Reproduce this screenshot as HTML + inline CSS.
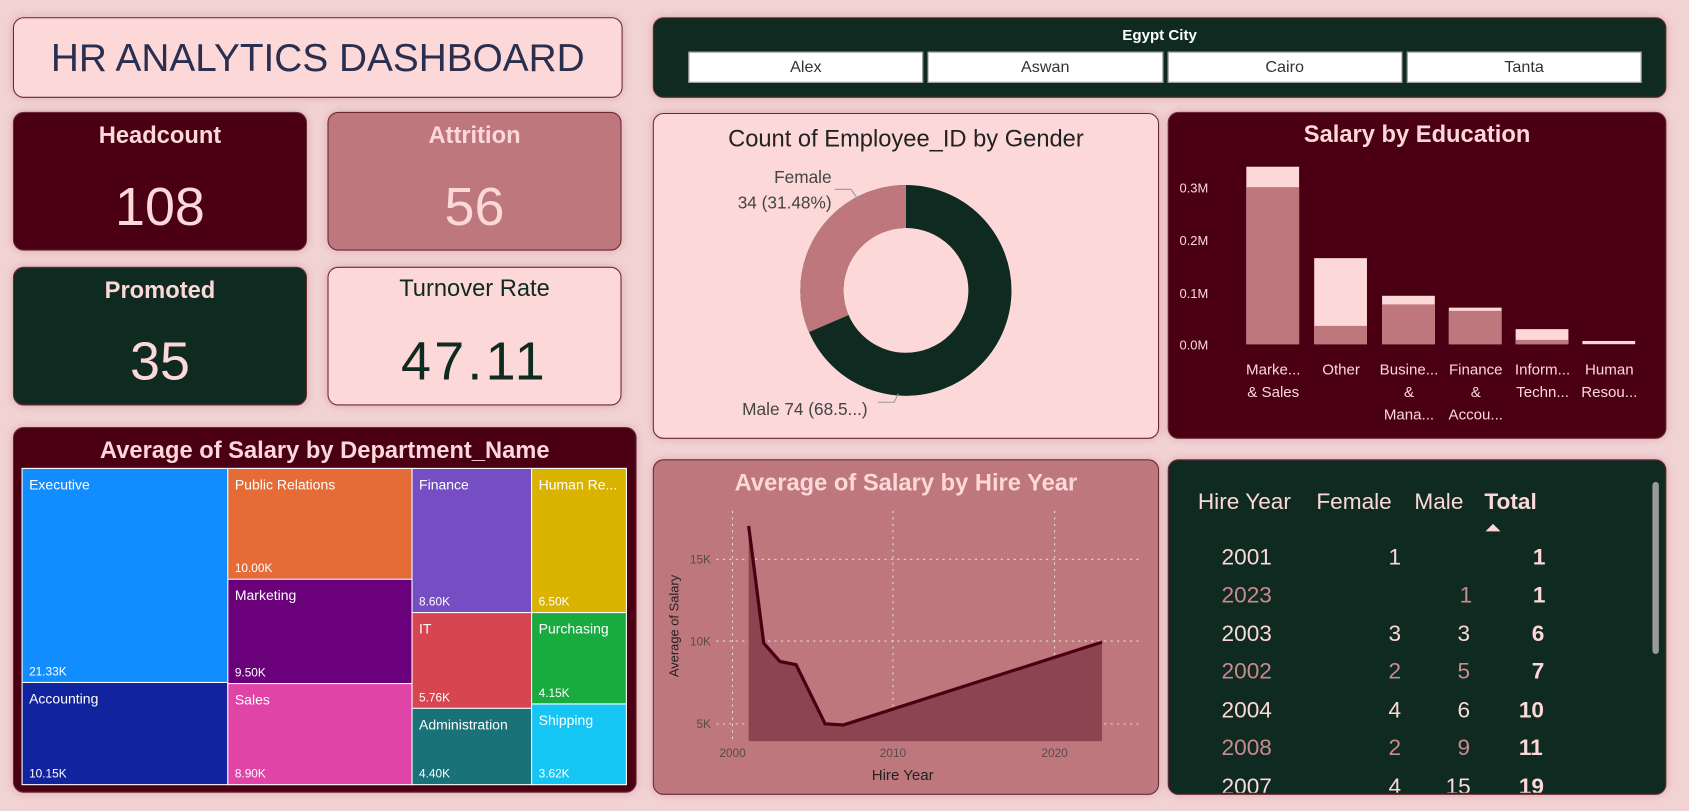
<!DOCTYPE html>
<html><head><meta charset="utf-8"><style>
body{margin:0;width:1689px;height:811px;overflow:hidden;background:#efcfd0;font-family:"Liberation Sans",sans-serif}
#w{position:absolute;left:0;top:0;width:1568px;height:754px;transform:scale(1.0772,1.0756);transform-origin:0 0;background:#f2d3d4}
.p{position:absolute;border:1px solid #6a2a35;border-radius:10px;box-sizing:border-box;box-shadow:0 0 8px rgba(180,100,110,.35)}
.t{position:absolute;left:0;right:0;text-align:center;white-space:nowrap}
.c{position:absolute;color:#fff;font-size:13px;box-sizing:border-box;border:1px solid #fff}
.c span{position:absolute;left:6px;bottom:3px;font-size:11px}
.c b{font-weight:normal;position:absolute;left:6px;top:7px}
.r{position:absolute;font-size:21px;white-space:nowrap}
</style></head><body><div id="w">
<div class="p" style="left:12px;top:16px;width:566px;height:75px;background:#fdd8d8"><div class="t" style="top:16px;font-size:36px;color:#2a2f4f">HR ANALYTICS DASHBOARD</div></div>
<div class="p" style="left:12px;top:104px;width:273px;height:129px;background:#4a0012;color:#fdd8d8"><div class="t" style="top:8px;font-size:22px;font-weight:bold">Headcount</div><div class="t" style="top:58px;font-size:50px">108</div></div>
<div class="p" style="left:304px;top:104px;width:273px;height:129px;background:#be777d;color:#fdd8d8"><div class="t" style="top:8px;font-size:22px;font-weight:bold">Attrition</div><div class="t" style="top:58px;font-size:50px">56</div></div>
<div class="p" style="left:12px;top:248px;width:273px;height:129px;background:#0f2a20;color:#fdd8d8"><div class="t" style="top:8px;font-size:22px;font-weight:bold">Promoted</div><div class="t" style="top:58px;font-size:50px">35</div></div>
<div class="p" style="left:304px;top:248px;width:273px;height:129px;background:#fdd8d8;color:#0f2a20"><div class="t" style="top:6px;font-size:22px">Turnover Rate</div><div class="t" style="top:58px;font-size:50px;letter-spacing:3px">47.11</div></div>
<div class="p" style="left:12px;top:397px;width:579px;height:340px;background:#4a0012"><div class="t" style="top:8px;font-size:22px;font-weight:bold;color:#fdd8d8">Average of Salary by Department_Name</div></div>
<div class="c" style="left:20px;top:435px;width:192px;height:200px;background:#118dff"><b>Executive</b><span>21.33K</span></div>
<div class="c" style="left:20px;top:634px;width:192px;height:96px;background:#12239e"><b>Accounting</b><span>10.15K</span></div>
<div class="c" style="left:211px;top:435px;width:172px;height:104px;background:#e66c37"><b>Public Relations</b><span>10.00K</span></div>
<div class="c" style="left:211px;top:538px;width:172px;height:98px;background:#6b007b"><b>Marketing</b><span>9.50K</span></div>
<div class="c" style="left:211px;top:635px;width:172px;height:95px;background:#e044a7"><b>Sales</b><span>8.90K</span></div>
<div class="c" style="left:382px;top:435px;width:112px;height:135px;background:#744ec2"><b>Finance</b><span>8.60K</span></div>
<div class="c" style="left:382px;top:569px;width:112px;height:90px;background:#d64550"><b>IT</b><span>5.76K</span></div>
<div class="c" style="left:382px;top:658px;width:112px;height:72px;background:#197278"><b>Administration</b><span>4.40K</span></div>
<div class="c" style="left:493px;top:435px;width:89px;height:135px;background:#d9b300"><b>Human Re...</b><span>6.50K</span></div>
<div class="c" style="left:493px;top:569px;width:89px;height:86px;background:#1aab40"><b>Purchasing</b><span>4.15K</span></div>
<div class="c" style="left:493px;top:654px;width:89px;height:76px;background:#15c6f4"><b>Shipping</b><span>3.62K</span></div>
<div class="p" style="left:606px;top:16px;width:941px;height:75px;background:#0f2a20"><div class="t" style="top:7px;font-size:14px;font-weight:bold;color:#fff">Egypt City</div></div>
<div style="position:absolute;top:48px;left:639px;width:885px;height:29px;display:flex;gap:4px">
<div style="flex:1;background:#fff;border:1px solid #999;text-align:center;line-height:27px;font-size:15px;color:#333">Alex</div><div style="flex:1;background:#fff;border:1px solid #999;text-align:center;line-height:27px;font-size:15px;color:#333">Aswan</div><div style="flex:1;background:#fff;border:1px solid #999;text-align:center;line-height:27px;font-size:15px;color:#333">Cairo</div><div style="flex:1;background:#fff;border:1px solid #999;text-align:center;line-height:27px;font-size:15px;color:#333">Tanta</div></div>
<div class="p" style="left:606px;top:105px;width:470px;height:303px;background:#fdd8d8"><div class="t" style="top:10px;font-size:22px;color:#222">Count of Employee_ID by Gender</div></div>
<svg style="position:absolute;left:0;top:0" width="1568" height="754">
<circle cx="841" cy="270" r="78" fill="none" stroke="#0f2a20" stroke-width="40"/>
<circle cx="841" cy="270" r="78" fill="none" stroke="#be777d" stroke-width="40" stroke-dasharray="154.3 490.1" transform="rotate(156.7 841 270)"/>
<polyline points="775,176 790,176 797,186" fill="none" stroke="#999"/>
<polyline points="815,374 830,374 834,366" fill="none" stroke="#999"/>
<text x="772" y="170" font-size="16" fill="#444" text-anchor="end">Female</text>
<text x="772" y="194" font-size="16" fill="#444" text-anchor="end">34 (31.48%)</text>
<text x="689" y="386" font-size="16" fill="#444">Male 74 (68.5...)</text>
</svg>
<div class="p" style="left:1084px;top:104px;width:463px;height:304px;background:#4a0012"><div class="t" style="top:7px;font-size:22px;font-weight:bold;color:#fdd8d8">Salary by Education</div></div>
<svg style="position:absolute;left:0;top:0" width="1568" height="754" font-family="Liberation Sans">
<g fill="#fdd8d8" font-size="12"><text x="1095" y="179">0.3M</text><text x="1095" y="228">0.2M</text><text x="1095" y="277">0.1M</text><text x="1095" y="325">0.0M</text></g>
<g fill="#fdd8d8"><rect x="1157" y="155" width="49" height="165"/><rect x="1220" y="240" width="49" height="80"/><rect x="1283" y="275" width="49" height="45"/><rect x="1345" y="286" width="49" height="34"/><rect x="1407" y="306" width="49" height="14"/><rect x="1469" y="317" width="49" height="3"/></g>
<g fill="#be777d"><rect x="1157" y="174" width="49" height="146"/><rect x="1220" y="303" width="49" height="17"/><rect x="1283" y="283" width="49" height="37"/><rect x="1345" y="289" width="49" height="31"/><rect x="1407" y="316" width="49" height="4"/></g>
<g fill="#fdd8d8" font-size="14" text-anchor="middle"><text x="1182" y="348">Marke...</text><text x="1182" y="369">&amp; Sales</text><text x="1245" y="348">Other</text><text x="1308" y="348">Busine...</text><text x="1308" y="369">&amp;</text><text x="1308" y="390">Mana...</text><text x="1370" y="348">Finance</text><text x="1370" y="369">&amp;</text><text x="1370" y="390">Accou...</text><text x="1432" y="348">Inform...</text><text x="1432" y="369">Techn...</text><text x="1494" y="348">Human</text><text x="1494" y="369">Resou...</text></g>
</svg>
<div class="p" style="left:606px;top:427px;width:470px;height:312px;background:#be777d"><div class="t" style="top:8px;font-size:22px;font-weight:bold;color:#fdd8d8">Average of Salary by Hire Year</div></div>
<svg style="position:absolute;left:0;top:0" width="1568" height="754" font-family="Liberation Sans">
<g stroke="#ddd" stroke-dasharray="2 4" stroke-width="1"><line x1="665" y1="520" x2="1060" y2="520"/><line x1="665" y1="596" x2="1060" y2="596"/><line x1="665" y1="673" x2="1060" y2="673"/><line x1="680" y1="475" x2="680" y2="690"/><line x1="829" y1="475" x2="829" y2="690"/><line x1="979" y1="475" x2="979" y2="690"/></g>
<path d="M695,489 L709,598 L724,615 L739,618 L766,673 L783,674 L1023,597 L1023,689 L695,689Z" fill="#8c4550"/>
<polyline points="695,489 709,598 724,615 739,618 766,673 783,674 1023,597" fill="none" stroke="#4a0012" stroke-width="3"/>
<g fill="#5a4a4c" font-size="11" text-anchor="end"><text x="660" y="524">15K</text><text x="660" y="600">10K</text><text x="660" y="677">5K</text></g>
<g fill="#5a4a4c" font-size="11" text-anchor="middle"><text x="680" y="704">2000</text><text x="829" y="704">2010</text><text x="979" y="704">2020</text></g>
<text x="838" y="725" font-size="14" fill="#222" text-anchor="middle">Hire Year</text>
<text transform="translate(630 582) rotate(-90)" font-size="12" fill="#222" text-anchor="middle">Average of Salary</text>
</svg>
<div class="p" style="left:1084px;top:427px;width:463px;height:312px;background:#0f2a20;overflow:hidden">
<div style="position:absolute;right:6px;top:20px;width:6px;height:160px;background:#999;border-radius:3px"></div>
</div>
<div style="position:absolute;left:0;top:0;color:#fdd8d8">
<div class="r" style="left:1112px;top:455px">Hire Year</div><div class="r" style="left:1222px;top:455px">Female</div><div class="r" style="left:1313px;top:455px">Male</div><div class="r" style="left:1378px;top:455px;font-weight:bold">Total</div>
<div style="position:absolute;left:1379px;top:487px;border:7px solid transparent;border-bottom-color:#fdd8d8;border-top:0"></div>
</div>
<div style="position:absolute;left:0;top:0;font-size:21px">
<div style="color:#fdd8d8"><div class="r" style="left:1134px;top:507px">2001</div><div class="r" style="left:1289px;top:507px">1</div><div class="r" style="left:1423px;top:507px;font-weight:bold">1</div></div>
<div style="color:#c98a90"><div class="r" style="left:1134px;top:542px">2023</div><div class="r" style="left:1355px;top:542px">1</div><div class="r" style="left:1423px;top:542px;font-weight:bold;color:#fdd8d8">1</div></div>
<div style="color:#fdd8d8"><div class="r" style="left:1134px;top:578px">2003</div><div class="r" style="left:1289px;top:578px">3</div><div class="r" style="left:1353px;top:578px">3</div><div class="r" style="left:1422px;top:578px;font-weight:bold">6</div></div>
<div style="color:#c98a90"><div class="r" style="left:1134px;top:613px">2002</div><div class="r" style="left:1289px;top:613px">2</div><div class="r" style="left:1353px;top:613px">5</div><div class="r" style="left:1422px;top:613px;font-weight:bold;color:#fdd8d8">7</div></div>
<div style="color:#fdd8d8"><div class="r" style="left:1134px;top:649px">2004</div><div class="r" style="left:1289px;top:649px">4</div><div class="r" style="left:1353px;top:649px">6</div><div class="r" style="left:1410px;top:649px;font-weight:bold">10</div></div>
<div style="color:#c98a90"><div class="r" style="left:1134px;top:684px">2008</div><div class="r" style="left:1289px;top:684px">2</div><div class="r" style="left:1353px;top:684px">9</div><div class="r" style="left:1410px;top:684px;font-weight:bold;color:#fdd8d8">11</div></div>
<div style="position:absolute;left:1086px;top:718px;width:450px;height:19px;overflow:hidden;color:#fdd8d8"><div class="r" style="left:48px;top:2px">2007</div><div class="r" style="left:203px;top:2px">4</div><div class="r" style="left:256px;top:2px">15</div><div class="r" style="left:324px;top:2px;font-weight:bold">19</div></div>
</div>
</div></body></html>
